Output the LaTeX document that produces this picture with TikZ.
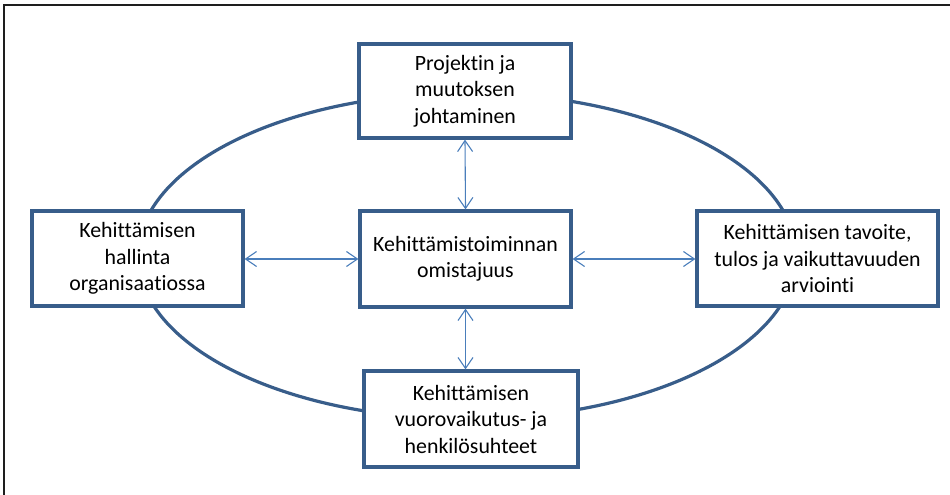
\documentclass[tikz,border=0pt]{standalone}
\usepackage{fontspec}
\setmainfont{Carlito}[Ligatures={NoCommon,NoRare,NoContextual}]
\usetikzlibrary{arrows.meta}
\definecolor{frameblue}{RGB}{56,93,138}
\definecolor{linkblue}{RGB}{74,126,187}
\definecolor{outline}{RGB}{30,30,30}
\tikzset{
  topic/.style={draw=frameblue, line width=3.2pt, fill=white, inner sep=0pt,
    align=center, text=black, font=\fontsize{21.85}{26.5}\selectfont},
  link/.style={draw=linkblue, line width=1.1pt,
    {Straight Barb[length=11pt,width=15pt]}-{Straight Barb[length=11pt,width=15pt]}},
  cycle/.style={draw=frameblue, line width=3.2pt}
}
\begin{document}
\begin{tikzpicture}[x=1pt,y=-1pt]
  \useasboundingbox (0,0) rectangle (950,495);
  % outer frame (top and left edges)
  \draw[outline, line width=1.5pt] (4,495) -- (4,5) -- (950,5);
  % ring linking the five areas
  \draw[cycle] (467,256) ellipse [x radius=329, y radius=163];
  % areas
  \node[topic, minimum width=212pt, minimum height=94pt] (top) at (465,91)
    {Projektin ja\\muutoksen\\johtaminen};
  \node[topic, minimum width=211pt, minimum height=96pt] (core) at (465.5,259)
    {Kehittämistoiminnan\\omistajuus};
  \node[topic, minimum width=211pt, minimum height=95pt] (left) at (137.5,258.5)
    {Kehittämisen\\hallinta\\organisaatiossa};
  \node[topic, minimum width=241pt, minimum height=95pt] (right) at (817.5,258.5)
    {Kehittämisen tavoite,\\tulos ja vaikuttavuuden\\arviointi};
  \node[topic, minimum width=214pt, minimum height=96pt] (bottom) at (471,419)
    {Kehittämisen\\vuorovaikutus- ja\\henkilösuhteet};
  % two-way links from the core
  \draw[link] (top.south) -- (core.north);
  \draw[link] (core.south) -- (core.south |- bottom.north);
  \draw[link] (left.east |- core.west) -- (core.west);
  \draw[link] (core.east) -- (core.east -| right.west);
\end{tikzpicture}
\end{document}
